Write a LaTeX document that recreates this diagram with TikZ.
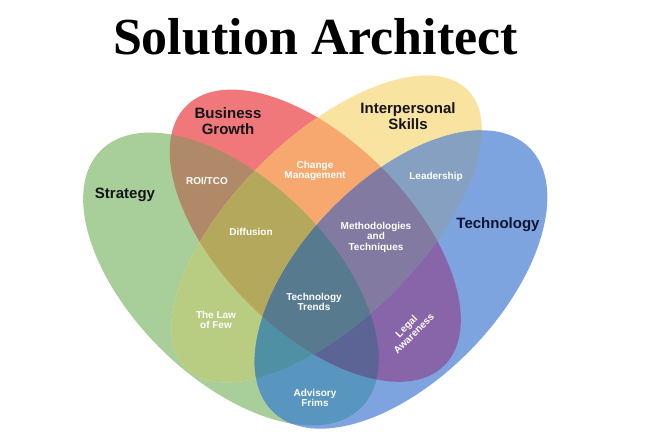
\documentclass[tikz,border=0pt]{standalone}
\usepackage{fontspec}
\setmainfont{Liberation Serif}
\newfontfamily\lab{Liberation Sans}
\definecolor{cG}{RGB}{168,206,154}
\definecolor{cR}{RGB}{240,120,122}
\definecolor{cY}{RGB}{249,227,161}
\definecolor{cB}{RGB}{126,164,224}
\definecolor{cGR}{RGB}{176,138,104}
\definecolor{cRY}{RGB}{246,168,110}
\definecolor{cYB}{RGB}{133,160,193}
\definecolor{cGY}{RGB}{184,205,130}
\definecolor{cRB}{RGB}{136,100,168}
\definecolor{cGB}{RGB}{88,150,192}
\definecolor{cGRY}{RGB}{180,168,92}
\definecolor{cRYB}{RGB}{130,122,160}
\definecolor{cGYB}{RGB}{80,144,165}
\definecolor{cGRB}{RGB}{92,100,150}
\definecolor{cGRYB}{RGB}{88,122,142}
\definecolor{darktext}{RGB}{20,20,25}
\definecolor{navytext}{RGB}{15,20,50}
\newcommand{\ellG}{(231,155) ellipse [x radius=183, y radius=99, rotate=-44.5]}
\newcommand{\ellR}{(315.3,198.3) ellipse [x radius=183, y radius=95, rotate=-45.2]}
\newcommand{\ellY}{(326.6,205.1) ellipse [x radius=198, y radius=92, rotate=44.5]}
\newcommand{\ellB}{(401,154.5) ellipse [x radius=184, y radius=99, rotate=46]}
\tikzset{
  setlabel/.style={font=\lab\bfseries\fontsize{15}{16}\selectfont, text=darktext, align=center, inner sep=0pt},
  reglabel/.style={font=\lab\bfseries\fontsize{10}{10.5}\selectfont, text=white, align=center, inner sep=0pt},
}
\begin{document}
\begin{tikzpicture}[x=1pt,y=1pt]
\useasboundingbox (0,0) rectangle (650,434);
\fill[white] (0,0) rectangle (650,434);
% single sets
\fill[cG] \ellG;
\fill[cR] \ellR;
\fill[cY] \ellY;
\fill[cB] \ellB;
% pairs
\begin{scope}\clip \ellG; \fill[cGR] \ellR; \end{scope}
\begin{scope}\clip \ellG; \fill[cGY] \ellY; \end{scope}
\begin{scope}\clip \ellG; \fill[cGB] \ellB; \end{scope}
\begin{scope}\clip \ellR; \fill[cRY] \ellY; \end{scope}
\begin{scope}\clip \ellR; \fill[cRB] \ellB; \end{scope}
\begin{scope}\clip \ellY; \fill[cYB] \ellB; \end{scope}
% triples
\begin{scope}\clip \ellG; \clip \ellR; \fill[cGRY] \ellY; \end{scope}
\begin{scope}\clip \ellG; \clip \ellR; \fill[cGRB] \ellB; \end{scope}
\begin{scope}\clip \ellG; \clip \ellY; \fill[cGYB] \ellB; \end{scope}
\begin{scope}\clip \ellR; \clip \ellY; \fill[cRYB] \ellB; \end{scope}
% all four
\begin{scope}\clip \ellG; \clip \ellR; \clip \ellY; \fill[cGRYB] \ellB; \end{scope}
% title
\node[anchor=base, inner sep=0pt, font=\bfseries\fontsize{52}{56}\selectfont] (title) at (315.5,379) {Solution Architect};
% set labels
\node[setlabel] (bg) at (228,312.5) {Business\\Growth};
\node[setlabel] (ip) at (408,318) {Interpersonal\\Skills};
\node[setlabel, anchor=base] (st) at (125,235) {Strategy};
\node[setlabel, anchor=base, text=navytext] (te) at (498,205) {Technology};
% region labels
\node[reglabel] (roi) at (207,253) {ROI/TCO};
\node[reglabel] (cm) at (315,263) {Change\\Management};
\node[reglabel] (ld) at (436,257) {Leadership};
\node[reglabel] (df) at (251,202) {Diffusion};
\node[reglabel] (mt) at (376,197) {Methodologies\\and\\Techniques};
\node[reglabel] (tt) at (314,132) {Technology\\Trends};
\node[reglabel] (lf) at (216,114) {The Law\\of Few};
\node[reglabel] (af) at (315,36) {Advisory\\Frims};
\node[reglabel, rotate=45] (la) at (410,104) {Legal\\Awareness};
\end{tikzpicture}
\end{document}
